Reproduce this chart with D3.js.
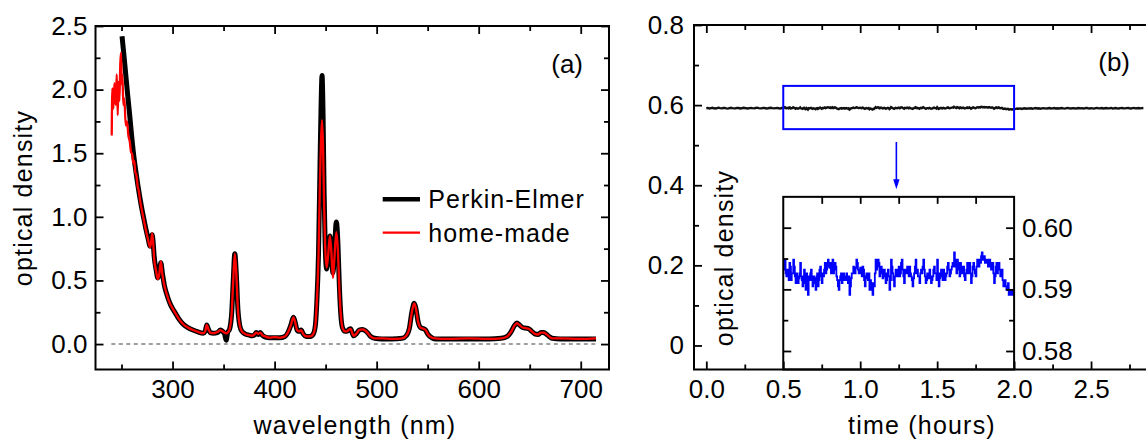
<!DOCTYPE html>
<html><head><meta charset="utf-8">
<script src="https://cdn.jsdelivr.net/npm/d3@7"></script>
<style>
html,body{margin:0;padding:0;background:#fff;}
svg{display:block;}
text{font-family:"Liberation Sans",Arial,sans-serif;fill:#000;}
</style></head><body>
<svg id="fig" width="1146" height="439"></svg>
<script>
// ---------- (a) absorption spectra: [wavelength nm, optical density] ----------
const perkinElmer = [
  [250.5,2.42],[252,2.30],[254,2.13],[256,1.96],[258,1.80],[260,1.63],[262,1.48],[264,1.36],[266,1.25],[268,1.15],
  [270,1.06],[272,0.98],[274,0.90],[276,0.83],[278,0.77],[279,0.80],[280,0.86],[281,0.80],[282,0.69],[284,0.58],
  [285.5,0.52],[287,0.55],[288.5,0.64],[290,0.56],[292,0.46],[294,0.40],[296,0.35],[298,0.31],[300,0.28],[303,0.24],
  [306,0.20],[310,0.16],[315,0.13],[320,0.11],[325,0.095],[330,0.085],[332,0.10],[333.5,0.15],[335,0.12],[337,0.09],
  [340,0.085],[344,0.09],[347,0.11],[349,0.10],[351,0.08],[352.5,0.03],[354,0.09],[356,0.12],[358,0.25],[359.5,0.50],
  [361,0.71],[362.5,0.55],[364,0.28],[366,0.14],[368,0.10],[371,0.08],[375,0.07],[378,0.065],[380,0.07],[382,0.09],
  [384,0.075],[386,0.09],[388,0.07],[391,0.055],[395,0.05],[400,0.05],[405,0.05],[410,0.06],[413,0.09],[416,0.15],
  [418.5,0.21],[420.5,0.16],[422,0.11],[424,0.10],[426,0.11],[428,0.08],[431,0.06],[435,0.06],[438,0.08],[440,0.15],
  [441.5,0.35],[443,0.70],[444.5,1.40],[445.5,1.85],[446.5,2.11],[447.5,1.80],[448.5,1.20],[449.5,0.80],[451,0.59],[452.5,0.70],
  [454.2,0.85],[455.5,0.75],[457.2,0.56],[458.5,0.70],[460.5,0.96],[462,0.80],[463.5,0.45],[465,0.22],[466.5,0.13],[469,0.10],
  [471,0.10],[473,0.115],[474.5,0.12],[476,0.09],[477.5,0.065],[480,0.08],[483,0.11],[486,0.115],[489,0.105],[491,0.09],
  [494,0.06],[498,0.045],[505,0.04],[515,0.04],[525,0.045],[529,0.065],[532,0.12],[534.5,0.25],[536.8,0.32],[538.5,0.28],
  [540.5,0.18],[543,0.13],[546,0.12],[548,0.11],[550,0.08],[553,0.055],[557,0.04],[570,0.04],[590,0.04],[610,0.04],
  [622,0.045],[628,0.06],[632,0.10],[635,0.145],[637.5,0.165],[640,0.15],[643,0.13],[646,0.125],[649,0.12],[652,0.10],
  [655,0.08],[658,0.075],[661,0.09],[663.5,0.09],[666,0.08],[669,0.06],[672,0.045],[680,0.04],[700,0.04],[715,0.04]
];
const homeMade = [
  [240.4,1.64],[241,2.01],[242,1.85],[243,2.05],[244.3,1.88],[245.3,2.12],[246.3,1.80],[247,2.06],[247.9,1.91],[248.8,2.20],
  [249.5,2.29],[250.2,2.04],[250.8,2.12],[251.8,1.88],[252.8,1.93],[254.1,1.72],[255.4,1.75],[256.7,1.64],[258.1,1.59],[259.3,1.51],
  [260.6,1.49],[261.5,1.42],[262.5,1.44],[263.5,1.35],[264.5,1.33],[266,1.23],[267,1.20],[268,1.14],[270,1.05],[272,0.97],
  [274,0.89],[276,0.82],[278,0.76],[279,0.80],[280,0.87],[281,0.80],[282,0.67],[284,0.57],[285.5,0.51],[287,0.55],
  [288.5,0.65],[290,0.55],[292,0.46],[294,0.40],[296,0.35],[298,0.31],[300,0.28],[303,0.24],[306,0.20],[310,0.16],
  [315,0.13],[320,0.11],[325,0.095],[330,0.085],[332,0.10],[333.5,0.15],[335,0.12],[337,0.09],[340,0.085],[344,0.095],
  [347,0.11],[349,0.10],[351,0.09],[352.5,0.085],[354,0.09],[356,0.12],[358,0.25],[359.5,0.50],[361,0.71],[362.5,0.55],
  [364,0.28],[366,0.14],[368,0.10],[371,0.08],[375,0.07],[378,0.065],[380,0.075],[382,0.09],[384,0.08],[386,0.09],
  [388,0.07],[391,0.06],[395,0.05],[400,0.055],[405,0.05],[410,0.06],[413,0.09],[416,0.15],[418.5,0.21],[420.5,0.16],
  [422,0.11],[424,0.10],[426,0.11],[428,0.08],[431,0.06],[435,0.06],[438,0.08],[440,0.15],[441.5,0.35],[443,0.68],
  [444.5,1.30],[445.5,1.60],[446.5,1.76],[447.5,1.55],[448.5,1.10],[449.5,0.78],[451,0.60],[452.5,0.70],[454.2,0.85],[455.5,0.74],
  [457.2,0.52],[458.5,0.66],[460.5,0.88],[462,0.74],[463.5,0.43],[465,0.22],[466.5,0.13],[469,0.10],[471,0.10],[473,0.115],
  [474.5,0.12],[476,0.09],[477.5,0.065],[480,0.08],[483,0.11],[486,0.115],[489,0.105],[491,0.09],[494,0.06],[498,0.045],
  [505,0.045],[515,0.04],[525,0.045],[529,0.065],[532,0.12],[534.5,0.25],[536.8,0.32],[538.5,0.28],[540.5,0.18],[543,0.13],
  [546,0.12],[548,0.11],[550,0.08],[553,0.055],[557,0.045],[570,0.04],[590,0.045],[610,0.04],[622,0.045],[628,0.06],
  [632,0.10],[635,0.145],[637.5,0.165],[640,0.15],[643,0.13],[646,0.125],[649,0.12],[652,0.10],[655,0.08],[658,0.075],
  [661,0.09],[663.5,0.09],[666,0.08],[669,0.06],[672,0.045],[680,0.045],[700,0.04],[715,0.045]
];
const specXMajor = [300, 400, 500, 600, 700];
const specXMinor = [250, 350, 450, 550, 650];
const specYMajor = [0, 0.5, 1.0, 1.5, 2.0, 2.5];
const specYMinor = [0.25, 0.75, 1.25, 1.75, 2.25];
const specLegend = ["Perkin-Elmer", "home-made"];

// ---------- (b) long-term stability ----------
// 0.00–0.49 h, one reading every 0.01 h
const odBefore = [
  0.5922,0.5929,0.5918,0.5926,0.5932,0.5921,0.5916,0.5927,0.5935,0.5924,
  0.5919,0.5928,0.5931,0.5920,0.5914,0.5926,0.5933,0.5925,0.5918,0.5923,
  0.5930,0.5927,0.5916,0.5921,0.5934,0.5929,0.5920,0.5917,0.5926,0.5931,
  0.5924,0.5919,0.5928,0.5936,0.5925,0.5918,0.5922,0.5930,0.5927,0.5915,
  0.5921,0.5929,0.5933,0.5924,0.5919,0.5926,0.5931,0.5922,0.5917,0.5928
];
// 0.500–1.995 h, one reading every 0.005 h (shown enlarged in the inset)
const odWindow = [
  0.5932,0.5943,0.5948,0.5926,0.5921,0.5932,0.5926,0.5915,0.5943,0.5937,0.5915,0.5926,0.5926,0.5948,0.5937,0.5921,0.5910,0.5926,0.5921,0.5910,
  0.5918,0.5926,0.5943,0.5921,0.5915,0.5905,0.5921,0.5932,0.5910,0.5899,0.5926,0.5910,0.5891,0.5921,0.5915,0.5926,0.5932,0.5915,0.5905,0.5921,
  0.5918,0.5910,0.5899,0.5921,0.5926,0.5905,0.5915,0.5932,0.5937,0.5921,0.5910,0.5926,0.5921,0.5932,0.5943,0.5926,0.5932,0.5943,0.5948,0.5937,
  0.5935,0.5943,0.5926,0.5937,0.5948,0.5926,0.5932,0.5943,0.5937,0.5921,0.5915,0.5905,0.5899,0.5915,0.5921,0.5926,0.5910,0.5918,0.5926,0.5915,
  0.5921,0.5915,0.5926,0.5918,0.5910,0.5921,0.5891,0.5905,0.5918,0.5926,0.5926,0.5937,0.5932,0.5926,0.5935,0.5948,0.5943,0.5932,0.5926,0.5932,
  0.5935,0.5926,0.5921,0.5937,0.5932,0.5915,0.5905,0.5921,0.5926,0.5918,0.5915,0.5926,0.5899,0.5915,0.5910,0.5899,0.5891,0.5910,0.5905,0.5926,
  0.5948,0.5932,0.5937,0.5948,0.5943,0.5921,0.5926,0.5937,0.5932,0.5918,0.5921,0.5932,0.5926,0.5910,0.5915,0.5926,0.5932,0.5921,0.5899,0.5915,
  0.5948,0.5937,0.5926,0.5915,0.5905,0.5921,0.5932,0.5926,0.5921,0.5932,0.5937,0.5921,0.5926,0.5943,0.5948,0.5932,0.5921,0.5910,0.5932,0.5926,
  0.5926,0.5937,0.5932,0.5921,0.5937,0.5926,0.5921,0.5915,0.5905,0.5918,0.5926,0.5937,0.5948,0.5926,0.5932,0.5921,0.5921,0.5910,0.5926,0.5932,
  0.5926,0.5937,0.5948,0.5932,0.5921,0.5910,0.5915,0.5926,0.5926,0.5918,0.5932,0.5921,0.5910,0.5915,0.5921,0.5932,0.5937,0.5926,0.5926,0.5915,
  0.5948,0.5926,0.5905,0.5918,0.5926,0.5932,0.5921,0.5915,0.5932,0.5926,0.5915,0.5921,0.5926,0.5937,0.5943,0.5932,0.5921,0.5926,0.5932,0.5937,
  0.5943,0.5937,0.5960,0.5948,0.5937,0.5926,0.5948,0.5943,0.5932,0.5921,0.5943,0.5937,0.5926,0.5932,0.5937,0.5921,0.5915,0.5926,0.5932,0.5943,
  0.5926,0.5937,0.5943,0.5926,0.5910,0.5921,0.5937,0.5943,0.5932,0.5926,0.5921,0.5937,0.5948,0.5943,0.5937,0.5948,0.5943,0.5954,0.5960,0.5948,
  0.5948,0.5954,0.5943,0.5948,0.5948,0.5943,0.5937,0.5948,0.5948,0.5937,0.5932,0.5943,0.5943,0.5926,0.5910,0.5921,0.5937,0.5943,0.5926,0.5937,
  0.5943,0.5932,0.5921,0.5926,0.5932,0.5915,0.5905,0.5910,0.5915,0.5905,0.5899,0.5905,0.5910,0.5891,0.5891,0.5899,0.5899,0.5891,0.5891,0.5899
];
// 2.00–2.84 h, one reading every 0.01 h
const odAfter = [
  0.5899,0.5905,0.5915,0.5910,0.5918,0.5905,0.5915,0.5921,0.5910,0.5918,
  0.5915,0.5921,0.5910,0.5918,0.5926,0.5915,0.5921,0.5910,0.5918,0.5924,
  0.5918,0.5912,0.5921,0.5926,0.5915,0.5920,0.5928,0.5917,0.5922,0.5915,
  0.5921,0.5927,0.5918,0.5913,0.5924,0.5929,0.5920,0.5916,0.5925,0.5921,
  0.5914,0.5922,0.5928,0.5919,0.5924,0.5917,0.5923,0.5930,0.5921,0.5916,
  0.5925,0.5920,0.5913,0.5924,0.5929,0.5918,0.5922,0.5927,0.5916,0.5921,
  0.5926,0.5919,0.5923,0.5930,0.5917,0.5922,0.5928,0.5920,0.5915,0.5924,
  0.5929,0.5921,0.5918,0.5925,0.5931,0.5922,0.5916,0.5924,0.5928,0.5919,
  0.5923,0.5927,0.5920,0.5925,0.5929
];
const timeMajor = [0, 0.5, 1.0, 1.5, 2.0, 2.5];
const timeMinor = [0.25, 0.75, 1.25, 1.75, 2.25, 2.75];
const stabYMajor = [0, 0.2, 0.4, 0.6, 0.8];
const stabYMinor = [0.1, 0.3, 0.5, 0.7];
const zoomWindow = {t0: 0.5, t1: 2.0, od0: 0.54, od1: 0.648};
const insetXTicks = [0.75, 1.0, 1.25, 1.5, 1.75];
const insetYMajor = [0.58, 0.59, 0.60];
const insetYMinor = [0.585, 0.595];

const svg = d3.select("#fig");
const FS = 26;

function styleAxis(g) {
  g.select(".domain").remove();
  g.selectAll(".tick line").attr("stroke", "#000").attr("stroke-width", 1.8);
  g.selectAll(".tick text").attr("font-size", FS).attr("font-family", '"Liberation Sans",Arial,sans-serif').attr("fill", "#000");
}
// inward ticks (negative inner size); labelled when a format is given
function ticks(g, axisFn, scale, values, len, fmt, pad) {
  const axis = axisFn(scale).tickValues(values).tickSizeInner(-len).tickSizeOuter(0)
    .tickPadding(pad || 0).tickFormat(fmt || (() => ""));
  g.call(axis);
  styleAxis(g);
  return g;
}

// ================= panel (a) =================
const ax = {l: 95.5, r: 609, t: 26, b: 369.5};
const xA = d3.scaleLinear().domain([224.5, 727.7]).range([ax.l, ax.r]);
const yA = d3.scaleLinear().domain([-0.2, 2.5]).range([ax.b, ax.t]);
const gA = svg.append("g");

gA.append("line").attr("x1", xA(240)).attr("x2", xA(716)).attr("y1", yA(0)).attr("y2", yA(0))
  .attr("stroke", "#808080").attr("stroke-width", 1.5).attr("stroke-dasharray", "4,3.5");

const lineA = d3.line().x(d => xA(d[0])).y(d => yA(d[1])).curve(d3.curveMonotoneX);
gA.append("path").datum(perkinElmer).attr("d", lineA).attr("fill", "none")
  .attr("stroke", "#000").attr("stroke-width", 5).attr("stroke-linejoin", "round");
gA.append("path").datum(homeMade).attr("d", lineA).attr("fill", "none")
  .attr("stroke", "#ff0000").attr("stroke-width", 2.3).attr("stroke-linejoin", "round");

// axes, ticks on all four sides pointing inward
const fmt1 = d3.format(".1f");
ticks(gA.append("g").attr("transform", `translate(0,${ax.b})`), d3.axisBottom, xA, specXMajor, 8, d3.format("d"), 10);
ticks(gA.append("g").attr("transform", `translate(0,${ax.b})`), d3.axisBottom, xA, specXMinor, 5);
ticks(gA.append("g").attr("transform", `translate(0,${ax.t})`), d3.axisTop, xA, specXMajor, 8);
ticks(gA.append("g").attr("transform", `translate(0,${ax.t})`), d3.axisTop, xA, specXMinor, 5);
ticks(gA.append("g").attr("transform", `translate(${ax.l},0)`), d3.axisLeft, yA, specYMajor, 8, fmt1, 8);
ticks(gA.append("g").attr("transform", `translate(${ax.l},0)`), d3.axisLeft, yA, specYMinor, 5);
ticks(gA.append("g").attr("transform", `translate(${ax.r},0)`), d3.axisRight, yA, specYMajor, 8);
ticks(gA.append("g").attr("transform", `translate(${ax.r},0)`), d3.axisRight, yA, specYMinor, 5);
gA.append("rect").attr("x", ax.l).attr("y", ax.t).attr("width", ax.r - ax.l).attr("height", ax.b - ax.t)
  .attr("fill", "none").attr("stroke", "#000").attr("stroke-width", 2);

gA.append("text").attr("x", 355).attr("y", 434).attr("text-anchor", "middle")
  .attr("font-size", 25).attr("letter-spacing", 1.2).text("wavelength (nm)");
gA.append("text").attr("transform", "translate(32,198) rotate(-90)").attr("text-anchor", "middle")
  .attr("font-size", 25).attr("letter-spacing", 1.2).text("optical density");
gA.append("text").attr("x", 583).attr("y", 73).attr("text-anchor", "end").attr("font-size", 26).text("(a)");

// legend
const legColors = ["#000", "#ff0000"], legWidths = [4.5, 2.2], legY = [199.3, 232.7];
specLegend.forEach((name, i) => {
  gA.append("line").attr("x1", 382.7).attr("x2", 420).attr("y1", legY[i]).attr("y2", legY[i])
    .attr("stroke", legColors[i]).attr("stroke-width", legWidths[i]);
  gA.append("text").attr("x", 428.3).attr("y", legY[i] + 9).attr("font-size", 25)
    .attr("letter-spacing", 1).text(name);
});

// ================= panel (b) =================
const bx = {l: 694, r: 1160.3, t: 25, b: 369.5};
const xB = d3.scaleLinear().domain([-0.08, 2.95]).range([bx.l, bx.r]);
const yB = d3.scaleLinear().domain([-0.06, 0.8]).range([bx.b, bx.t]);
const gB = svg.append("g");
const windowData = odWindow.map((v, i) => [zoomWindow.t0 + i * 0.005, v]);
const trace = odBefore.map((v, i) => [i * 0.01, v])
  .concat(windowData)
  .concat(odAfter.map((v, i) => [zoomWindow.t1 + i * 0.01, v]));

// inset: enlarged view of the boxed window
const insetTop = yB(0.371);
const yIn = d3.scaleLinear().domain([0.577, 0.605]).range([bx.b, insetTop]);
const ix0 = xB(zoomWindow.t0), ix1 = xB(zoomWindow.t1);
const gI = gB.append("g");
gI.append("rect").attr("x", ix0).attr("y", insetTop).attr("width", ix1 - ix0).attr("height", bx.b - insetTop)
  .attr("fill", "#fff");
gI.append("clipPath").attr("id", "insetClip").append("rect")
  .attr("x", ix0).attr("y", insetTop).attr("width", ix1 - ix0).attr("height", bx.b - insetTop);
gI.append("path").datum(windowData.concat([[zoomWindow.t1, odAfter[0]]])).attr("clip-path", "url(#insetClip)")
  .attr("d", d3.line().x(d => xB(d[0])).y(d => yIn(d[1])).curve(d3.curveStepAfter))
  .attr("fill", "none").attr("stroke", "#0000ff").attr("stroke-width", 1.8);
ticks(gI.append("g").attr("transform", `translate(0,${insetTop})`), d3.axisTop, xB, insetXTicks, 7);
ticks(gI.append("g").attr("transform", `translate(${ix0},0)`), d3.axisLeft, yIn, insetYMajor, 8);
ticks(gI.append("g").attr("transform", `translate(${ix0},0)`), d3.axisLeft, yIn, insetYMinor, 5);
ticks(gI.append("g").attr("transform", `translate(${ix1},0)`), d3.axisRight, yIn, insetYMajor, 8, d3.format(".2f"), 8);
ticks(gI.append("g").attr("transform", `translate(${ix1},0)`), d3.axisRight, yIn, insetYMinor, 5);
gI.append("rect").attr("x", ix0).attr("y", insetTop).attr("width", ix1 - ix0).attr("height", bx.b - insetTop)
  .attr("fill", "none").attr("stroke", "#000").attr("stroke-width", 2);
gI.append("text").attr("transform", `translate(733,258) rotate(-90)`).attr("text-anchor", "middle")
  .attr("font-size", 25).attr("letter-spacing", 1.2).text("optical density");

// main axes
const fmtB = d => d === 0 ? "0" : d3.format(".1f")(d);
ticks(gB.append("g").attr("transform", `translate(0,${bx.b})`), d3.axisBottom, xB, timeMajor, 8, d3.format(".1f"), 10);
ticks(gB.append("g").attr("transform", `translate(0,${bx.b})`), d3.axisBottom, xB, timeMinor, 5);
ticks(gB.append("g").attr("transform", `translate(0,${bx.t})`), d3.axisTop, xB, timeMajor, 8);
ticks(gB.append("g").attr("transform", `translate(0,${bx.t})`), d3.axisTop, xB, timeMinor, 5);
ticks(gB.append("g").attr("transform", `translate(${bx.l},0)`), d3.axisLeft, yB, stabYMajor, 8, fmtB, 10);
ticks(gB.append("g").attr("transform", `translate(${bx.l},0)`), d3.axisLeft, yB, stabYMinor, 5);
ticks(gB.append("g").attr("transform", `translate(${bx.r},0)`), d3.axisRight, yB, stabYMajor, 8);
ticks(gB.append("g").attr("transform", `translate(${bx.r},0)`), d3.axisRight, yB, stabYMinor, 5);
gB.append("rect").attr("x", bx.l).attr("y", bx.t).attr("width", bx.r - bx.l).attr("height", bx.b - bx.t)
  .attr("fill", "none").attr("stroke", "#000").attr("stroke-width", 2);

// full trace
gB.append("path").datum(trace)
  .attr("d", d3.line().x(d => xB(d[0])).y(d => yB(d[1])))
  .attr("fill", "none").attr("stroke", "#111").attr("stroke-width", 2.4);

// selection box and arrow to the inset
gB.append("rect").attr("x", xB(zoomWindow.t0)).attr("y", yB(zoomWindow.od1))
  .attr("width", xB(zoomWindow.t1) - xB(zoomWindow.t0)).attr("height", yB(zoomWindow.od0) - yB(zoomWindow.od1))
  .attr("fill", "none").attr("stroke", "#0000ff").attr("stroke-width", 2);
const arrowX = xB(1.235), arrowTop = yB(0.508), arrowTip = yB(0.39), arrowBase = yB(0.415);
gB.append("line").attr("x1", arrowX).attr("x2", arrowX).attr("y1", arrowTop).attr("y2", arrowBase + 1)
  .attr("stroke", "#0000ff").attr("stroke-width", 1.6);
gB.append("path").attr("d", `M${arrowX},${arrowTip}L${arrowX - 3.2},${arrowBase}L${arrowX + 3.2},${arrowBase}Z`)
  .attr("fill", "#0000ff");

gB.append("text").attr("x", 922).attr("y", 434).attr("text-anchor", "middle")
  .attr("font-size", 25).attr("letter-spacing", 1.2).text("time (hours)");
gB.append("text").attr("x", 1130).attr("y", 71).attr("text-anchor", "end").attr("font-size", 26).text("(b)");
</script>
</body></html>
